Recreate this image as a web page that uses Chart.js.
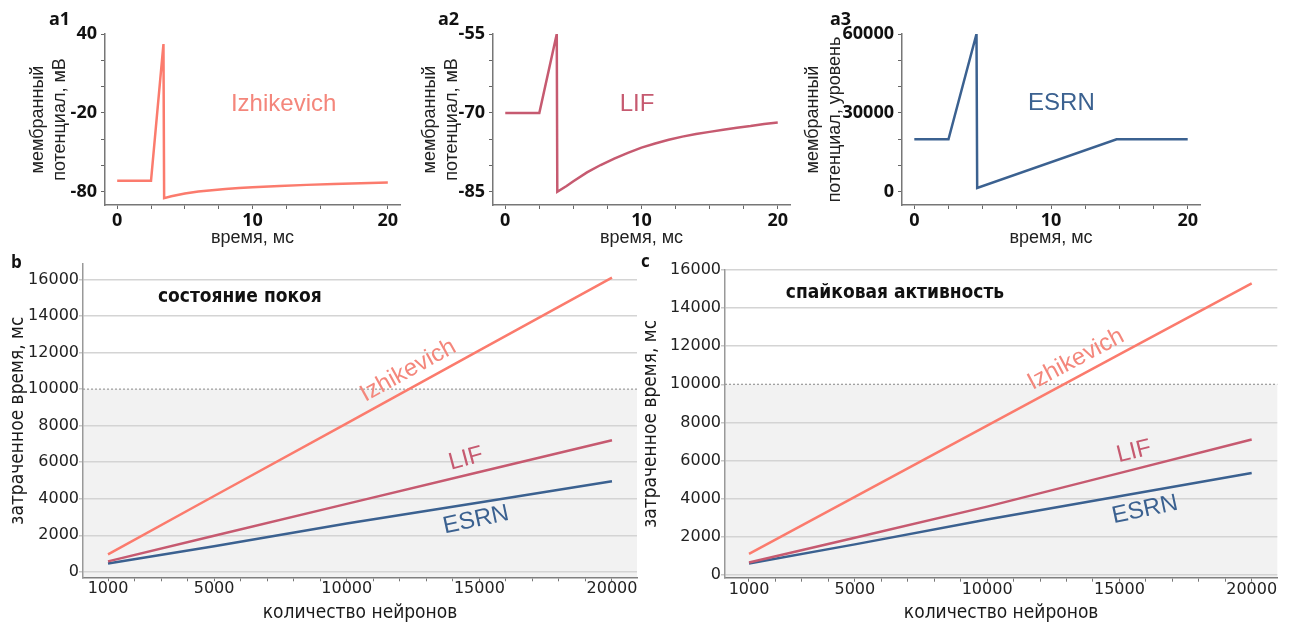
<!DOCTYPE html>
<html><head><meta charset="utf-8">
<script src="https://cdn.jsdelivr.net/npm/chart.js@4.4.1/dist/chart.umd.min.js"></script>
<style>
body{margin:0;background:#fff;width:1294px;height:628px;position:relative;overflow:hidden}
canvas{position:absolute}
.pl{position:absolute;font-family:'Open Sans',sans-serif;font-weight:bold;color:#111;line-height:1;white-space:nowrap}
</style></head><body>
<canvas id="a1" width="420" height="250" style="left:0;top:0"></canvas>
<canvas id="a2" width="400" height="250" style="left:410px;top:0"></canvas>
<canvas id="a3" width="420" height="250" style="left:800px;top:0"></canvas>
<canvas id="b" width="640" height="378" style="left:0;top:250px"></canvas>
<canvas id="c" width="654" height="378" style="left:640px;top:250px"></canvas>
<div class="pl" style="left:49px;top:9px;font-size:18px">a1</div>
<div class="pl" style="left:438px;top:9px;font-size:18px">a2</div>
<div class="pl" style="left:830px;top:9px;font-size:18px">a3</div>
<div class="pl" style="left:11px;top:253px;font-size:17px">b</div>
<div class="pl" style="left:641px;top:252px;font-size:17px">c</div>
<script>
// ---- data: membrane potential traces ----
const izhTime = [0, 2.5, 3.42, 3.47, 4, 5, 6, 7, 8, 9, 10, 12, 14, 16, 18, 20];
const izhPot  = [-71.6, -71.6, 32.4, -84.8, -83.4, -81.2, -79.8, -78.7, -77.8, -77.1, -76.5, -75.5, -74.7, -74.0, -73.4, -72.9];
const lifTime = [0, 2.5, 3.78, 3.82, 4.5, 5, 6, 7, 8, 9, 10, 11, 12, 13, 14, 15, 16, 17, 18, 19, 20];
const lifPot  = [-70, -70, -55, -85, -83.9, -83.0, -81.3, -79.9, -78.7, -77.6, -76.6, -75.8, -75.1, -74.5, -74.0, -73.6, -73.2, -72.8, -72.5, -72.1, -71.8];
const esrnTime = [0, 2.5, 4.55, 4.6, 14.8, 20];
const esrnLevel = [20000, 20000, 60000, 1500, 20000, 20000];
const timeTicks = [0, 2.5, 5, 7.5, 10, 12.5, 15, 17.5, 20];
const timeTickLabels = [0, 10, 20];
const izhTicks = [-80, -60, -40, -20, 0, 20, 40];
const izhTickLabels = [40, -20, -80];
const lifTicks = [-85, -80, -75, -70, -65, -60, -55];
const lifTickLabels = [-55, -70, -85];
const esrnTicks = [0, 10000, 20000, 30000, 40000, 50000, 60000];
const esrnTickLabels = [0, 30000, 60000];

// ---- data: elapsed time vs number of neurons ----
const neurons = [1000, 5000, 10000, 15000, 20000];
const restIzh  = [950, 4150, 8130, 12120, 16100];
const restLif  = [570, 1970, 3720, 5460, 7200];
const restEsrn = [460, 1400, 2640, 3800, 4960];
const spikeIzh  = [1100, 4090, 7830, 11570, 15300];
const spikeLif  = [650, 1950, 3580, 5340, 7100];
const spikeEsrn = [600, 1600, 2900, 4130, 5350];
const neuronTicks = [1000, 2000, 3000, 4000, 5000, 6000, 7000, 8000, 9000, 10000,
                     11000, 12000, 13000, 14000, 15000, 16000, 17000, 18000, 19000, 20000];
const neuronTickLabels = [1000, 5000, 10000, 15000, 20000];
const elapsedTicks = [0, 2000, 4000, 6000, 8000, 10000, 12000, 14000, 16000];
const threshold = 10000;

const C_IZH = '#fb7b6d', C_LIF = '#c65a70', C_ESRN = '#3b6190';
const COND = "'DejaVu Sans Condensed','DejaVu Sans',sans-serif";
const SANS = "'Liberation Sans',Arial,sans-serif";

function notesPlugin(notes){
  return {id:'notes', afterDatasetsDraw(chart){
    const {ctx, scales:{x, y}} = chart;
    notes.forEach(n => {
      ctx.save();
      ctx.translate(x.getPixelForValue(n.x), y.getPixelForValue(n.y));
      ctx.rotate(-n.rot * Math.PI / 180);
      ctx.font = n.font; ctx.fillStyle = n.color;
      ctx.textAlign = 'center'; ctx.textBaseline = 'middle';
      ctx.fillText(n.text, 0, 0);
      ctx.restore();
    });
  }};
}
const shadePlugin = {id:'shade',
  beforeDraw(chart){
    const {ctx, chartArea:a, scales:{y}} = chart;
    const py = y.getPixelForValue(threshold);
    ctx.save(); ctx.fillStyle = '#f2f2f2';
    ctx.fillRect(a.left, py, a.right - a.left, a.bottom - py); ctx.restore();
  },
  beforeDatasetsDraw(chart){
    const {ctx, chartArea:a, scales:{y}} = chart;
    const py = y.getPixelForValue(threshold);
    ctx.save(); ctx.strokeStyle = '#9a9a9a'; ctx.lineWidth = 1.2; ctx.setLineDash([2, 2]);
    ctx.beginPath(); ctx.moveTo(a.left, py); ctx.lineTo(a.right, py); ctx.stroke(); ctx.restore();
  }
};
const pts = (xs, ys) => xs.map((v, i) => ({x: v, y: ys[i]}));
const setTicks = vals => s => { s.ticks = vals.map(v => ({value: v})); };

function topChart(id, t, v, color, yr, yTicks, yLabels, yTitle, yWidth, titlePad, note){
  return new Chart(document.getElementById(id), {
    type: 'line',
    data: {datasets: [{data: pts(t, v), borderColor: color, borderWidth: 2.5, pointRadius: 0, tension: 0, fill: false}]},
    options: {
      responsive: false, animation: false, events: [],
      layout: {padding: {left: 0, right: 20, top: 34, bottom: 0}},
      plugins: {legend: {display: false}, tooltip: {enabled: false}},
      scales: {
        x: {type: 'linear', min: -0.9, max: 20.9, afterFit: s => { s.height = 45; },
          afterBuildTicks: setTicks(timeTicks),
          ticks: {autoSkip: false, maxRotation: 0, padding: 1, color: '#111',
            font: {family: 'Open Sans', weight: 'bold', size: 18, lineHeight: 1.2},
            callback: val => timeTickLabels.includes(val) ? String(val) : ''},
          grid: {drawOnChartArea: false, drawTicks: true, tickLength: 4, tickColor: '#666'},
          border: {color: '#777', width: 1.5},
          title: {display: true, text: 'время, мс', color: '#222', font: {family: SANS, size: 18, lineHeight: 1.17}, padding: {top: 0, bottom: 1}}
        },
        y: {type: 'linear', min: yr[0], max: yr[1], afterFit: s => { s.width = yWidth; },
          afterBuildTicks: setTicks(yTicks),
          ticks: {autoSkip: false, padding: 4, color: '#111',
            font: {family: 'Open Sans', weight: 'bold', size: 18, lineHeight: 1.2},
            callback: val => yLabels.includes(val) ? String(val) : ''},
          grid: {drawOnChartArea: false, drawTicks: true, tickLength: 4, tickColor: '#666'},
          border: {color: '#777', width: 1.5},
          title: {display: true, text: yTitle, color: '#222', font: {family: SANS, size: 18, lineHeight: 1.17}, padding: {top: titlePad, bottom: 0}}
        }
      }
    },
    plugins: [notesPlugin([note])]
  });
}

topChart('a1', izhTime, izhPot, C_IZH, [-90, 40], izhTicks, izhTickLabels, ['мембранный', 'потенциал, мВ'], 105, 28,
  {text: 'Izhikevich', x: 12.3, y: -13.2, rot: 0, color: '#f4867b', font: '24px ' + SANS});
topChart('a2', lifTime, lifPot, C_LIF, [-87.5, -55], lifTicks, lifTickLabels, ['мембранный', 'потенциал, мВ'], 83, 10,
  {text: 'LIF', x: 9.67, y: -68.3, rot: 0, color: C_LIF, font: '24px ' + SANS});
topChart('a3', esrnTime, esrnLevel, C_ESRN, [-5000, 60000], esrnTicks, esrnTickLabels, ['мембранный', 'потенциал, уровень'], 102, 3,
  {text: 'ESRN', x: 10.76, y: 33470, rot: 0, color: C_ESRN, font: '24px ' + SANS});

function bottomChart(id, izh, lif, esrn, xr, yr, yWidth, padTop, padRight, xHeight, yTitlePad, notes){
  return new Chart(document.getElementById(id), {
    type: 'line',
    data: {datasets: [
      {data: pts(neurons, izh), borderColor: C_IZH, borderWidth: 2.5, pointRadius: 0, tension: 0, fill: false},
      {data: pts(neurons, lif), borderColor: C_LIF, borderWidth: 2.5, pointRadius: 0, tension: 0, fill: false},
      {data: pts(neurons, esrn), borderColor: C_ESRN, borderWidth: 2.5, pointRadius: 0, tension: 0, fill: false}
    ]},
    options: {
      responsive: false, animation: false, events: [],
      layout: {padding: {left: 0, right: padRight, top: padTop, bottom: 0}},
      plugins: {legend: {display: false}, tooltip: {enabled: false}},
      scales: {
        x: {type: 'linear', min: xr[0], max: xr[1], afterFit: s => { s.height = xHeight; },
          afterBuildTicks: setTicks(neuronTicks),
          ticks: {autoSkip: false, maxRotation: 0, padding: 0, color: '#222',
            font: {family: 'DejaVu Sans', size: 16, lineHeight: 1},
            callback: val => neuronTickLabels.includes(val) ? String(val) : ''},
          grid: {drawOnChartArea: false, drawTicks: true, tickLength: 4, tickColor: '#777'},
          border: {color: '#808080', width: 1.5},
          title: {display: true, text: 'количество нейронов', color: '#1a1a1a', font: {family: COND, size: 19, lineHeight: 1}, padding: {top: 0, bottom: 5.5}}
        },
        y: {type: 'linear', min: yr[0], max: yr[1], afterFit: s => { s.width = yWidth; },
          afterBuildTicks: setTicks(elapsedTicks),
          ticks: {autoSkip: false, padding: 0, color: '#222',
            font: {family: 'DejaVu Sans', size: 16, lineHeight: 1},
            callback: val => String(val)},
          grid: {drawOnChartArea: true, drawTicks: true, tickLength: 4, lineWidth: 1.5,
            color: c => (c.tick && c.tick.value === threshold) ? 'rgba(0,0,0,0)' : '#d4d4d4', tickColor: '#c8c8c8'},
          border: {color: '#999', width: 1.5},
          title: {display: true, text: 'затраченное время, мс', color: '#1a1a1a', font: {family: COND, size: 19, lineHeight: 1}, padding: {top: yTitlePad, bottom: 0}}
        }
      }
    },
    plugins: [shadePlugin, notesPlugin(notes)]
  });
}

bottomChart('b', restIzh, restLif, restEsrn, [57, 20943], [-300, 16850], 83, 14, 3, 50.7, 9, [
  {text: 'состояние покоя', x: 5970, y: 15014, rot: 0, color: '#111', font: 'bold 19px ' + COND},
  {text: 'Izhikevich', x: 12310, y: 11010, rot: 29, color: '#f4877c', font: '24px ' + SANS},
  {text: 'LIF', x: 14498, y: 6182, rot: 15, color: C_LIF, font: '24px ' + SANS},
  {text: 'ESRN', x: 14875, y: 2836, rot: 12, color: C_ESRN, font: '24px ' + SANS}
]);
bottomChart('c', spikeIzh, spikeLif, spikeEsrn, [93, 20968], [-150, 16000], 85, 20, 16.7, 50.3, 2, [
  {text: 'спайковая активность', x: 6518, y: 14774, rot: 0, color: '#111', font: 'bold 19px ' + COND},
  {text: 'Izhikevich', x: 13358, y: 11304, rot: 28, color: '#f4877c', font: '24px ' + SANS},
  {text: 'LIF', x: 15550, y: 6467, rot: 14, color: C_LIF, font: '24px ' + SANS},
  {text: 'ESRN', x: 15966, y: 3417, rot: 12, color: C_ESRN, font: '24px ' + SANS}
]);
</script>
</body></html>
